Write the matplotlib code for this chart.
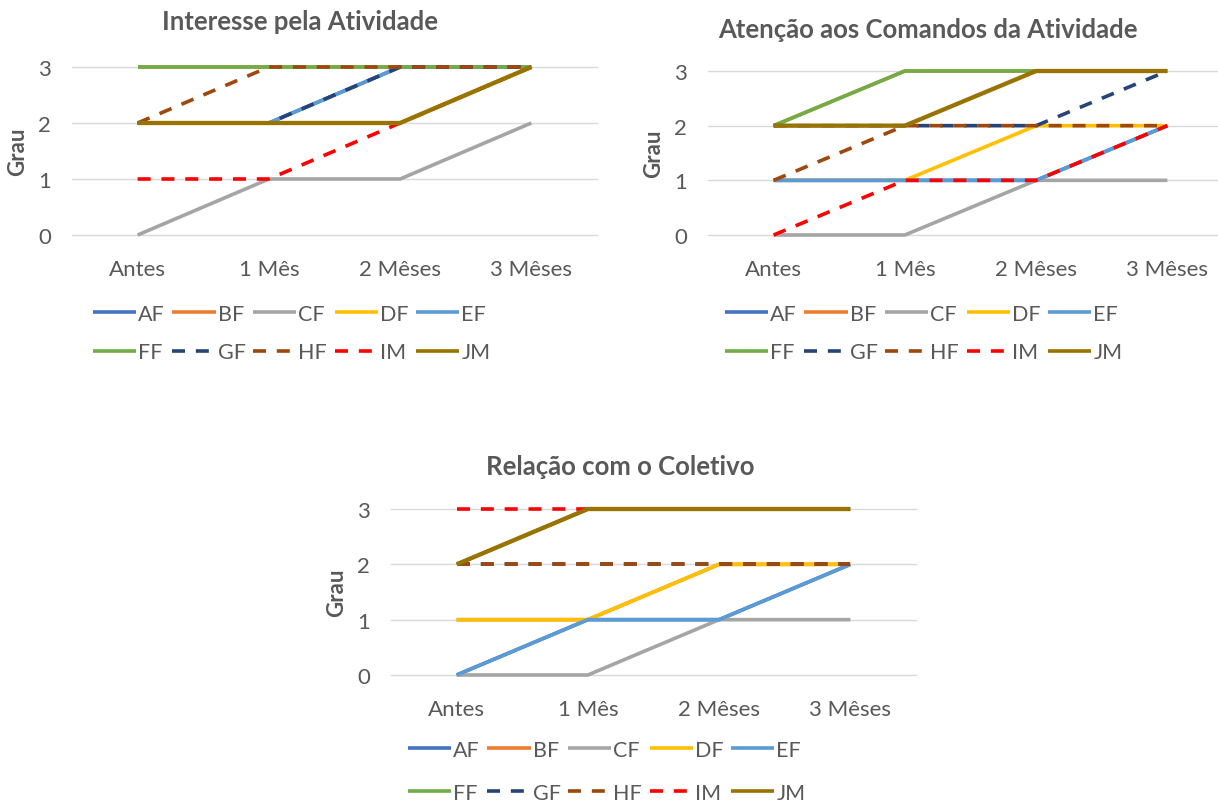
import matplotlib.pyplot as plt
from matplotlib.lines import Line2D

plt.rcParams['font.family'] = ['Lato', 'DejaVu Sans']

periods = ['Antes', '1 Mês', '2 Mêses', '3 Mêses']
names = ['AF', 'BF', 'CF', 'DF', 'EF', 'FF', 'GF', 'HF', 'IM', 'JM']
colors = ['#4472C4', '#ED7D31', '#A5A5A5', '#FFC000', '#5B9BD5',
          '#70AD47', '#264478', '#9E480E', '#FF0000', '#997300']
dashed = ['GF', 'HF', 'IM']

# Interesse pela Atividade
interesse = {
    'AF': [2, 2, 3, 3], 'BF': [3, 3, 3, 3], 'CF': [0, 1, 1, 2],
    'DF': [2, 2, 2, 3], 'EF': [2, 2, 3, 3], 'FF': [3, 3, 3, 3],
    'GF': [2, 2, 3, 3], 'HF': [2, 3, 3, 3], 'IM': [1, 1, 2, 3],
    'JM': [2, 2, 2, 3],
}
# Atenção aos Comandos da Atividade
atencao = {
    'AF': [1, 1, 1, 2], 'BF': [2, 3, 3, 3], 'CF': [0, 0, 1, 1],
    'DF': [1, 1, 2, 2], 'EF': [1, 1, 1, 2], 'FF': [2, 3, 3, 3],
    'GF': [2, 2, 2, 3], 'HF': [1, 2, 2, 2], 'IM': [0, 1, 1, 2],
    'JM': [2, 2, 3, 3],
}
# Relação com o Coletivo
relacao = {
    'AF': [0, 1, 1, 2], 'BF': [1, 1, 2, 2], 'CF': [0, 0, 1, 1],
    'DF': [1, 1, 2, 2], 'EF': [0, 1, 1, 2], 'FF': [2, 3, 3, 3],
    'GF': [2, 2, 2, 2], 'HF': [2, 2, 2, 2], 'IM': [3, 3, 3, 3],
    'JM': [2, 3, 3, 3],
}

txt = '#595959'
grid = '#D9D9D9'
lw = 2.6
dash = (0, (3.6, 3.0))

fig = plt.figure(figsize=(12.18, 8.04), dpi=100)


def draw(rect, data, title, title_xy, leg_xy, rowgap=0.85):
    ax = fig.add_axes(rect)
    x = range(len(periods))
    for n, c in zip(names, colors):
        w = lw + 0.5 if n == 'JM' else lw
        ax.plot(x, data[n], color=c, lw=w, linestyle=dash if n in dashed else '-',
                clip_on=False, solid_capstyle='butt', dash_capstyle='butt',
                solid_joinstyle='miter', zorder=3)
    ax.set_xlim(-0.5, 3.5)
    ax.set_ylim(0, 3)
    ax.set_yticks([0, 1, 2, 3])
    ax.set_xticks(list(x))
    ax.set_xticklabels(periods)
    for y in [0, 1, 2, 3]:
        ax.axhline(y, color=grid, lw=1.0, zorder=1, clip_on=False)
    for s in ax.spines.values():
        s.set_visible(False)
    ax.tick_params(length=0, labelsize=16, colors=txt)
    ax.tick_params(axis='x', pad=17)
    ax.tick_params(axis='y', pad=15)
    ax.set_ylabel('Grau', fontsize=16, fontweight='bold', color=txt, labelpad=7)
    fig.text(title_xy[0] / 1218, 1 - title_xy[1] / 804, title, ha='center',
             va='center', fontsize=18.5, fontweight='bold', color=txt)
    # legend filled column-wise by matplotlib, so interleave to read row-wise
    order = [0, 5, 1, 6, 2, 7, 3, 8, 4, 9]
    handles = [Line2D([], [], color=colors[i], lw=lw,
                      linestyle=dash if names[i] in dashed else '-',
                      dash_capstyle='butt', solid_capstyle='butt')
               for i in order]
    ax.legend(handles, [names[i] for i in order], ncol=5, frameon=False,
              loc='upper left',
              bbox_to_anchor=(leg_xy[0] / 1218, 1 - leg_xy[1] / 804),
              bbox_transform=fig.transFigure, borderpad=0, borderaxespad=0,
              fontsize=15.5, handlelength=2.0, handletextpad=0.1,
              columnspacing=0.35, labelspacing=rowgap, labelcolor=txt)
    return ax


draw([72 / 1218, (804 - 236) / 804, 525 / 1218, 168 / 804], interesse,
     'Interesse pela Atividade', (300, 22), (93, 305))
draw([708 / 1218, (804 - 236) / 804, 525 / 1218, 164 / 804], atencao,
     'Atenção aos Comandos da Atividade', (928, 30), (725, 305))
draw([391 / 1218, (804 - 676) / 804, 525 / 1218, 166 / 804], relacao,
     'Relação com o Coletivo', (620, 467), (408, 741), rowgap=1.05)

fig.savefig('out.png', dpi=100, facecolor='white')
